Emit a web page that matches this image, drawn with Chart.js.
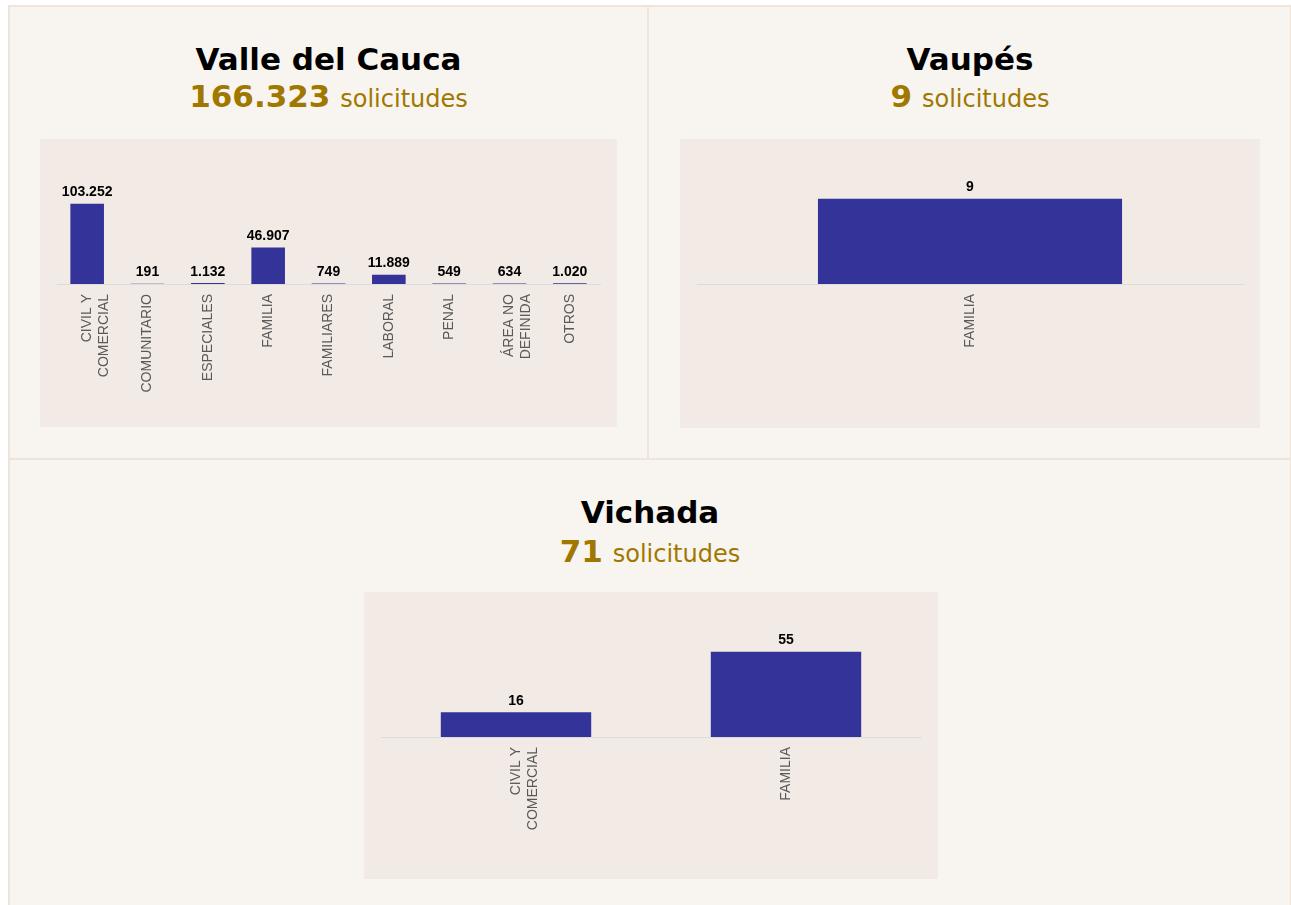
<!DOCTYPE html>
<html>
<head>
<meta charset="utf-8">
<script src="https://cdn.jsdelivr.net/npm/chart.js@4.4.1/dist/chart.umd.min.js"></script>
<style>
  html, body { margin: 0; padding: 0; background: #ffffff; width: 1291px; height: 905px; overflow: hidden; }
  .frame { position: absolute; left: 8px; top: 5px; width: 1280px; height: 920px; background: #f8f5f0;
           border-top: 2px solid #efe4da; border-left: 2px solid #efe4da; border-right: 2px solid #efe4da; }
  .vline { position: absolute; left: 647px; top: 5px; width: 2px; height: 455px; background: #efe4da; }
  .hline { position: absolute; left: 8px; top: 458px; width: 1284px; height: 2px; background: #efe4da; }
  .title { position: absolute; text-align: center; font-family: "DejaVu Sans", Verdana, sans-serif;
           font-weight: bold; font-size: 31px; line-height: 36px; color: #000; white-space: nowrap; }
  .sub { position: absolute; text-align: center; font-family: "DejaVu Sans", Verdana, sans-serif;
         font-size: 31px; line-height: 36px; color: #a07800; white-space: nowrap; }
  .sub b { font-weight: bold; font-size: 31px; }
  .sub span { font-weight: normal; font-size: 24px; }
  .box { position: absolute; background: #f2eae4; }
  .box canvas { display: block; }
</style>
</head>
<body>
<div class="frame"></div>
<div class="vline"></div>
<div class="hline"></div>

<div class="title" style="left:8px; width:641px; top:41px;">Valle del Cauca</div>
<div class="sub" style="left:8px; width:641px; top:78px;"><b id="tot1"></b> <span>solicitudes</span></div>
<div class="box" style="left:40px; top:139px; width:577px; height:288px;"><canvas id="c1" width="577" height="288"></canvas></div>

<div class="title" style="left:649px; width:642px; top:41px;">Vaupés</div>
<div class="sub" style="left:649px; width:642px; top:78px;"><b id="tot2"></b> <span>solicitudes</span></div>
<div class="box" style="left:680px; top:139px; width:580px; height:289px;"><canvas id="c2" width="580" height="289"></canvas></div>

<div class="title" style="left:8px; width:1284px; top:494px;">Vichada</div>
<div class="sub" style="left:8px; width:1284px; top:533px;"><b id="tot3"></b> <span>solicitudes</span></div>
<div class="box" style="left:364px; top:592px; width:574px; height:287px;"><canvas id="c3" width="574" height="287"></canvas></div>

<script>
// ---- data ----
const valleLabels = [["CIVIL Y", "COMERCIAL"], "COMUNITARIO", "ESPECIALES", "FAMILIA", "FAMILIARES", "LABORAL", "PENAL", ["ÁREA NO", "DEFINIDA"], "OTROS"];
const valleValues = [103252, 191, 1132, 46907, 749, 11889, 549, 634, 1020];
const valleTotal = 166323;

const vaupesLabels = ["FAMILIA"];
const vaupesValues = [9];
const vaupesTotal = 9;

const vichadaLabels = [["CIVIL Y", "COMERCIAL"], "FAMILIA"];
const vichadaValues = [16, 55];
const vichadaTotal = 71;

// ---- helpers ----
function fmt(n) {
  return String(n).replace(/\B(?=(\d{3})+(?!\d))/g, ".");
}
document.getElementById('tot1').textContent = fmt(valleTotal);
document.getElementById('tot2').textContent = fmt(vaupesTotal);
document.getElementById('tot3').textContent = fmt(vichadaTotal);

const valueLabels = {
  id: 'valueLabels',
  afterDatasetsDraw(chart) {
    const ctx = chart.ctx;
    const meta = chart.getDatasetMeta(0);
    const data = chart.data.datasets[0].data;
    ctx.save();
    ctx.font = 'bold 14px "Liberation Sans", Arial, sans-serif';
    ctx.fillStyle = '#000000';
    ctx.textAlign = 'center';
    ctx.textBaseline = 'alphabetic';
    meta.data.forEach((bar, i) => {
      ctx.fillText(fmt(data[i]), bar.x, bar.y - 7.5);
    });
    ctx.restore();
  }
};

function makeChart(id, labels, values, yMax) {
  const canvas = document.getElementById(id);
  const H = canvas.height;
  return new Chart(canvas, {
    type: 'bar',
    data: {
      labels: labels,
      datasets: [{
        data: values,
        backgroundColor: '#343399',
        borderWidth: 0,
        barPercentage: 0.557,
        categoryPercentage: 1.0
      }]
    },
    options: {
      responsive: false,
      animation: false,
      devicePixelRatio: 1,
      layout: { padding: { top: 59.5, left: 17, right: 17, bottom: 0 } },
      plugins: { legend: { display: false }, tooltip: { enabled: false }, title: { display: false } },
      scales: {
        x: {
          grid: { display: false, drawTicks: true, tickLength: 7 },
          border: { display: true, color: '#dcdcdc', width: 1 },
          ticks: {
            autoSkip: false,
            minRotation: 90,
            maxRotation: 90,
            padding: 3,
            color: '#595959',
            font: { family: '"Liberation Sans", Arial, sans-serif', size: 14 }
          },
          afterFit(scale) { scale.height = H - 145; }
        },
        y: {
          display: false,
          min: 0,
          max: yMax
        }
      }
    },
    plugins: [valueLabels]
  });
}

makeChart('c1', valleLabels, valleValues, 110000);
makeChart('c2', vaupesLabels, vaupesValues, 9);
makeChart('c3', vichadaLabels, vichadaValues, 55);
</script>
</body>
</html>
